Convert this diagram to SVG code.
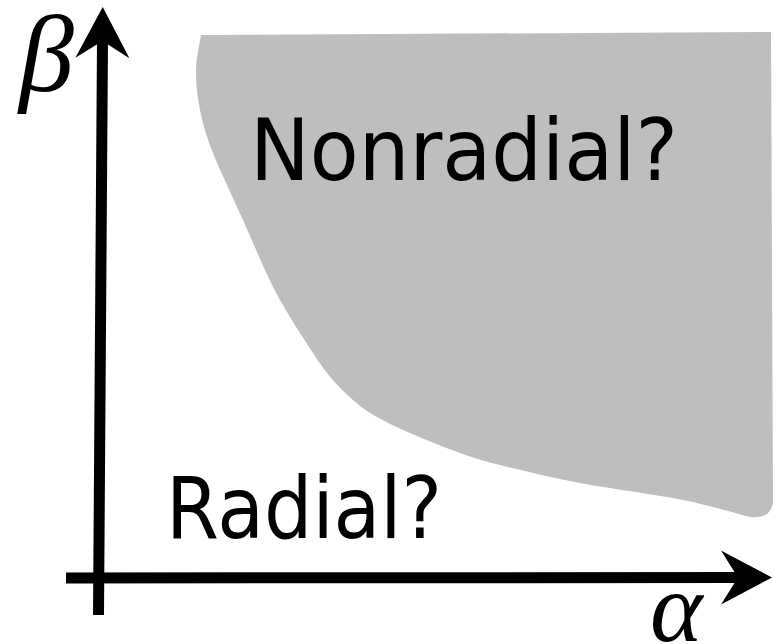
<svg xmlns="http://www.w3.org/2000/svg" width="779" height="644" viewBox="0 0 779 644">
<style>
.lbl{font-family:"DejaVu Sans","Liberation Sans",sans-serif;font-size:85px;fill:#000}
.sym{font-family:"Liberation Serif","DejaVu Serif",serif;font-style:italic;fill:#000}
.axis{stroke:#000;stroke-width:11;fill:none;marker-end:url(#head)}
</style>
<defs>
<marker id="head" markerUnits="userSpaceOnUse" viewBox="-20 -30 60 60" markerWidth="60" markerHeight="60" refX="0" refY="0" orient="auto">
<path d="M34,0 L-17,-27 L0,0 L-17,27 Z" fill="#000"/>
</marker>
</defs>
<g id="region-nonradial">
<path d="M201,35 C200.2,40.8 196.2,57.5 196,70 C195.8,82.5 197.2,96.2 200,110 C202.8,123.8 205.8,134.7 213,153 C220.2,171.3 234.3,200.5 243,220 C251.7,239.5 258.8,256.7 265,270 C271.2,283.3 274.2,289.5 280,300 C285.8,310.5 292.2,320.8 300,333 C307.8,345.2 318.2,361.8 327,373 C335.8,384.2 344.7,392.7 353,400 C361.3,407.3 367.5,411.5 377,417 C386.5,422.5 396.2,427 410,433 C423.8,439 445,447.7 460,453 C475,458.3 480,460 500,465 C520,470 549.5,477.2 580,483 C610.5,488.8 654.7,494.3 683,500 C711.3,505.7 738.8,514.2 750,517 C765,519 773,512 773,500 L771,32 Z" fill="#bebebe"/>
<text class="lbl" x="250" y="180" textLength="428" lengthAdjust="spacingAndGlyphs">Nonradial?</text>
</g>
<g id="region-radial">
<text class="lbl" x="166" y="538" textLength="276" lengthAdjust="spacingAndGlyphs">Radial?</text>
</g>
<g id="connectors">
<line class="axis" x1="98.5" y1="615" x2="102.5" y2="41"/>
<line class="axis" x1="66" y1="578" x2="738" y2="577.5"/>
</g>
<g id="label-beta"><text class="sym" x="19" y="91" font-size="110">β</text></g>
<g id="label-alpha"><text class="sym" x="650" y="641" font-size="100">α</text></g>
</svg>
